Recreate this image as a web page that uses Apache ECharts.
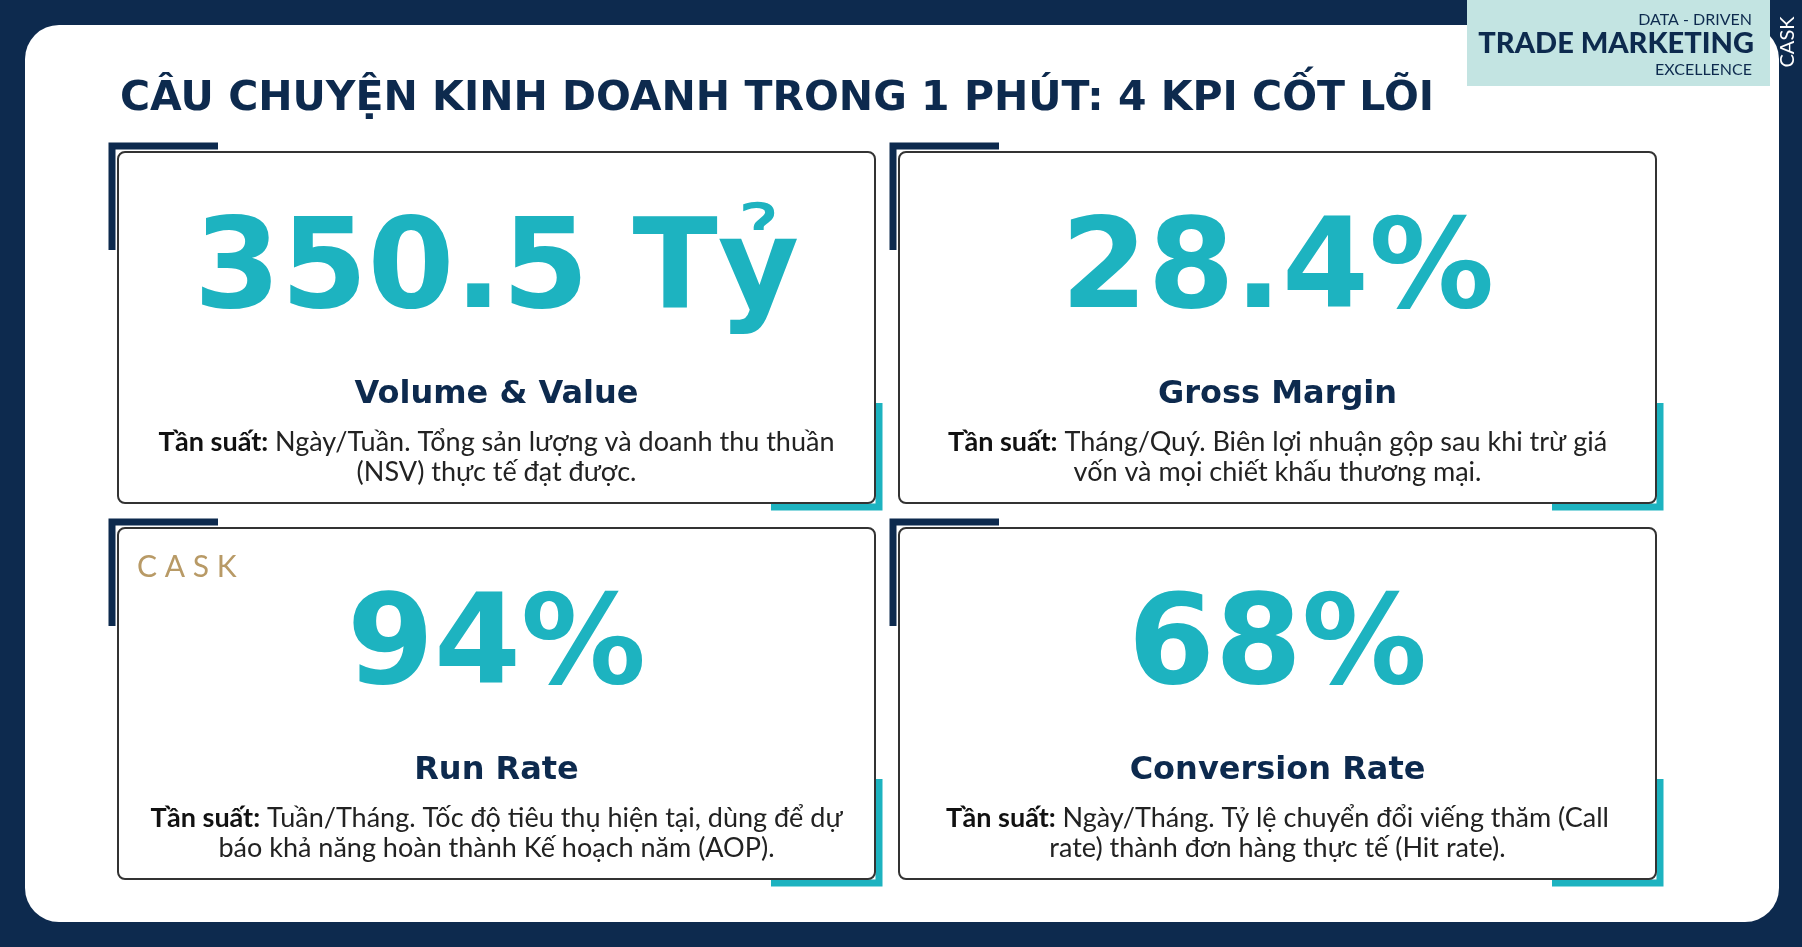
<!DOCTYPE html>
<html><head><meta charset="utf-8">
<script src="https://cdn.jsdelivr.net/npm/echarts@6/dist/echarts.min.js"></script>
<style>html,body{margin:0;padding:0;background:#0d2a4e}#c{width:1802px;height:947px}</style>
</head><body><div id="c"></div>
<script>
const kpiValues = ['350.5 Tỷ', '28.4%', '94%', '68%'];
const kpiNames = ['Volume & Value', 'Gross Margin', 'Run Rate', 'Conversion Rate'];
const kpiLine1 = [
  ' Ngày/Tuần. Tổng sản lượng và doanh thu thuần',
  ' Tháng/Quý. Biên lợi nhuận gộp sau khi trừ giá',
  ' Tuần/Tháng. Tốc độ tiêu thụ hiện tại, dùng để dự',
  ' Ngày/Tháng. Tỷ lệ chuyển đổi viếng thăm (Call'
];
const kpiLine2 = [
  '(NSV) thực tế đạt được.',
  'vốn và mọi chiết khấu thương mại.',
  'báo khả năng hoàn thành Kế hoạch năm (AOP).',
  'rate) thành đơn hàng thực tế (Hit rate).'
];
const title = 'CÂU CHUYỆN KINH DOANH TRONG 1 PHÚT: 4 KPI CỐT LÕI';

const NAVY = '#0d2a4e', TEAL = '#1db3c0', FONT = 'Lato, "Noto Sans", sans-serif', HEAVY = '"DejaVu Sans", sans-serif';
const chart = echarts.init(document.getElementById('c'));
const g = [];
g.push({type:'rect', shape:{x:0,y:0,width:1802,height:947}, style:{fill:NAVY}});
g.push({type:'rect', shape:{x:25,y:25,width:1754,height:897,r:34}, style:{fill:'#fff'}});
g.push({type:'rect', shape:{x:1467,y:0,width:303,height:86}, style:{fill:'#c3e4e2'}});
g.push({type:'text', x:1752,y:20, style:{text:'DATA - DRIVEN', fill:NAVY, font:'16px '+FONT, align:'right', verticalAlign:'middle'}});
g.push({type:'text', x:1754,y:44, style:{text:'TRADE MARKETING', fill:NAVY, font:'900 29px '+FONT, align:'right', verticalAlign:'middle'}});
g.push({type:'text', x:1752,y:70, style:{text:'EXCELLENCE', fill:NAVY, font:'16px '+FONT, align:'right', verticalAlign:'middle'}});
g.push({type:'text', x:1788,y:42, rotation:Math.PI/2, style:{text:'CASK', fill:'#fff', font:'20px '+FONT, align:'center', verticalAlign:'middle'}});
g.push({type:'text', x:120,y:99, style:{text:title, fill:NAVY, font:'bold 41px '+HEAVY, verticalAlign:'middle'}});

const cardX = [118, 899], cardY = [152, 528], W = 757, H = 351;
kpiValues.forEach((v,i)=>{
  const x = cardX[i%2], y = cardY[Math.floor(i/2)], cx = x + W/2;
  g.push({type:'polyline', shape:{points:[[x-6,y+98],[x-6,y-6],[x+100,y-6]]}, style:{stroke:NAVY, lineWidth:7, fill:null}});
  g.push({type:'polyline', shape:{points:[[x+W+4,y+251],[x+W+4,y+H+4],[x+W-104,y+H+4]]}, style:{stroke:TEAL, lineWidth:7, fill:null}});
  g.push({type:'rect', shape:{x:x,y:y,width:W,height:H,r:7}, style:{fill:'#fff', stroke:'#333', lineWidth:2}});
  g.push({type:'text', x:cx, y:y+123, style:{text:v, fill:TEAL, font:'bold 125px '+HEAVY, align:'center', verticalAlign:'middle'}});
  g.push({type:'text', x:cx, y:y+243, style:{text:kpiNames[i], fill:NAVY, font:'bold 32px '+HEAVY, align:'center', verticalAlign:'middle'}});
  g.push({type:'text', x:cx, y:y+290, style:{text:'{b|Tần suất:}'+kpiLine1[i], rich:{b:{fontWeight:'bold', fill:'#111', fontSize:27, fontFamily:FONT}}, fill:'#222', font:'27px '+FONT, align:'center', verticalAlign:'middle'}});
  g.push({type:'text', x:cx, y:y+320, style:{text:kpiLine2[i], fill:'#222', font:'27px '+FONT, align:'center', verticalAlign:'middle'}});
});
g.push({type:'text', x:137, y:567, style:{text:'C A S K', fill:'#b89a66', font:'30px '+FONT, verticalAlign:'middle'}});
chart.setOption({animation:false, graphic:{elements:g}});
</script></body></html>
